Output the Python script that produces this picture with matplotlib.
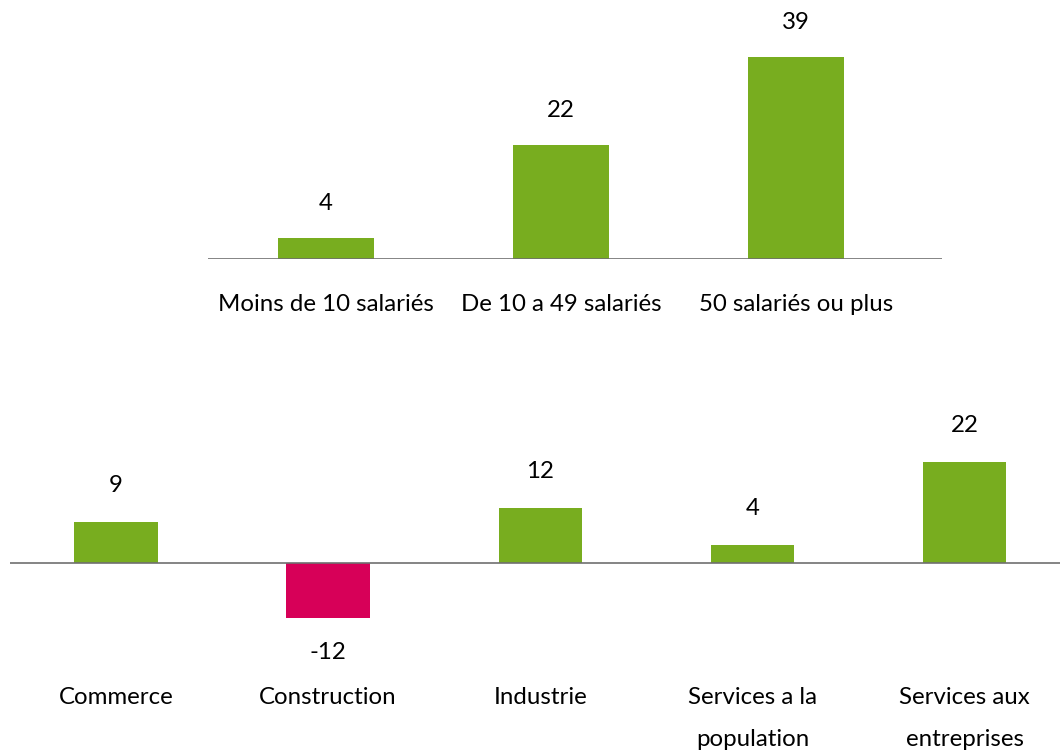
import matplotlib
matplotlib.use("Agg")
import matplotlib.pyplot as plt

plt.rcParams['font.family'] = ['Lato', 'DejaVu Sans']

size_labels = ["Moins de 10 salariés", "De 10 a 49 salariés", "50 salariés ou plus"]
size_values = [4, 22, 39]

sector_labels = ["Commerce", "Construction", "Industrie", "Services a la\npopulation", "Services aux\nentreprises"]
sector_values = [9, -12, 12, 4, 22]

GREEN = "#78AD1F"
RED = "#D70058"
LINE = "#6F6F6F"
FS = 17.3

W, H = 1060, 755
fig = plt.figure(figsize=(W / 100, H / 100), dpi=100)

def px_rect(x0, x1, ytop, ybot):
    return [x0 / W, (H - ybot) / H, (x1 - x0) / W, (ybot - ytop) / H]

# top panel
ax1 = fig.add_axes(px_rect(208, 942, 26, 259))
x1 = range(len(size_values))
ax1.bar(x1, size_values, width=0.41, color=GREEN, zorder=2)
ax1.set_xlim(-0.502, 2.62)
ax1.set_ylim(0, 45)
ax1.axhline(0, color=LINE, lw=1.2, zorder=3)
ax1.axis('off')
for i, v in zip(x1, size_values):
    ax1.annotate(str(v), (i, v), xytext=(0, 25), textcoords='offset points',
                 ha='center', va='center', fontsize=FS)
    ax1.annotate(size_labels[i], (i, 0), xytext=(0, -32.4), textcoords='offset points',
                 ha='center', va='center', fontsize=FS)

# bottom panel
ax2 = fig.add_axes(px_rect(10, 1060, 448, 630))
x2 = range(len(sector_values))
colors = [GREEN if v >= 0 else RED for v in sector_values]
ax2.bar(x2, sector_values, width=0.394, color=colors, zorder=2)
ax2.set_xlim(-0.5, 4.45)
ax2.set_ylim(-14.5, 25)
ax2.axhline(0, color=LINE, lw=1.2, zorder=3)
ax2.axis('off')
for i, v in zip(x2, sector_values):
    off = 26 if v >= 0 else -24.5
    ax2.annotate(str(v), (i, v), xytext=(0, off), textcoords='offset points',
                 ha='center', va='center', fontsize=FS)
    ax2.annotate(sector_labels[i], (i, 0), xytext=(0, -89.5), textcoords='offset points',
                 ha='center', va='top', fontsize=FS, linespacing=2.2)

fig.savefig("out.png", dpi=100)
